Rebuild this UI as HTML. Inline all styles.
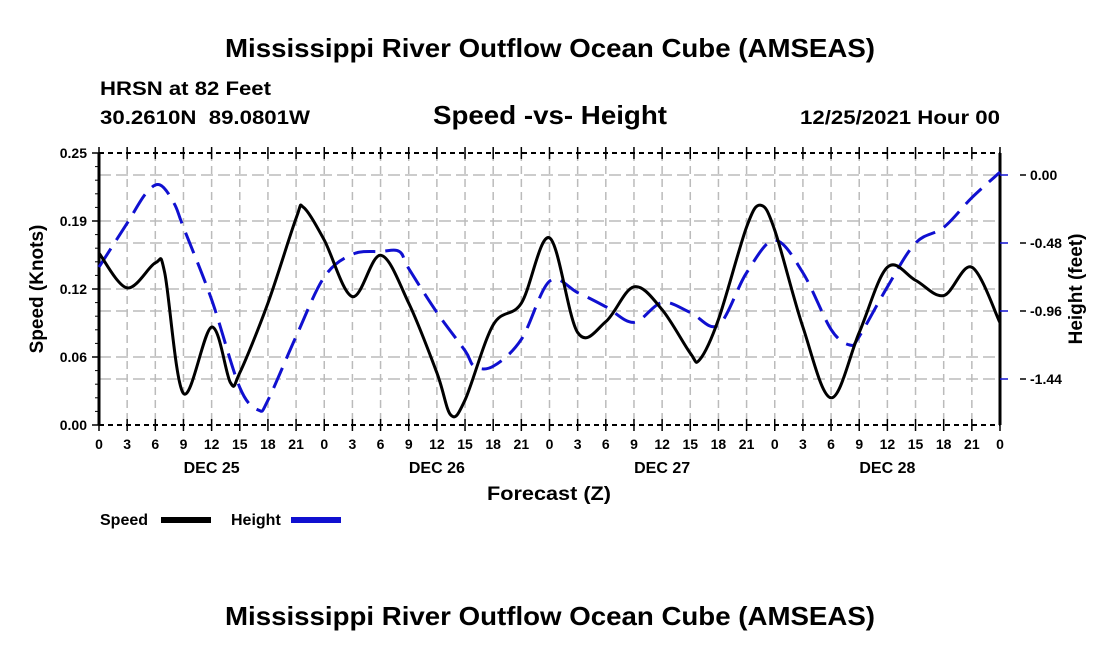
<!DOCTYPE html>
<html><head><meta charset="utf-8"><style>
html,body{margin:0;padding:0;background:#fff;}
svg{display:block;font-family:"Liberation Sans",Arial,sans-serif;font-weight:bold;}
</style></head><body>
<svg id="chart" width="1100" height="650" viewBox="0 0 1100 650">
<text x="225" y="57" font-size="26" textLength="650" lengthAdjust="spacingAndGlyphs">Mississippi River Outflow Ocean Cube (AMSEAS)</text>
<text x="100" y="95" font-size="19" textLength="171" lengthAdjust="spacingAndGlyphs">HRSN at 82 Feet</text>
<text x="100" y="124" font-size="19" textLength="210" lengthAdjust="spacingAndGlyphs" xml:space="preserve">30.2610N  89.0801W</text>
<text x="433" y="124" font-size="26" textLength="234" lengthAdjust="spacingAndGlyphs">Speed -vs- Height</text>
<text x="800" y="124" font-size="19" textLength="200" lengthAdjust="spacingAndGlyphs">12/25/2021 Hour 00</text>
<g id="grid"></g>
<g id="axes"></g>
<g id="series"></g>
<text x="487" y="500" font-size="19" textLength="124" lengthAdjust="spacingAndGlyphs">Forecast (Z)</text>
<text transform="translate(43,289) rotate(-90)" font-size="19" text-anchor="middle">Speed (Knots)</text>
<text transform="translate(1082,289) rotate(-90)" font-size="19" text-anchor="middle">Height (feet)</text>
<g>
<text x="100" y="525" font-size="16">Speed</text>
<rect x="161" y="517" width="50" height="6" fill="#000"/>
<text x="231" y="525" font-size="16">Height</text>
<rect x="291" y="517" width="50" height="6" fill="#1010d0"/>
</g>
<text x="225" y="625" font-size="26" textLength="650" lengthAdjust="spacingAndGlyphs">Mississippi River Outflow Ocean Cube (AMSEAS)</text>
</svg>
<script>
const speedHours=[0,3,6,7,9,12,14,15,18,21,21.8,24,27,30,33,36,37.5,39,42,45,48,51,54,57,60,63,64,66,69,70.5,72,75,78,81,84,87,90,93,96];
const speedValues=[0.158,0.126,0.149,0.14,0.029,0.09,0.039,0.048,0.112,0.19,0.2,0.17,0.118,0.156,0.112,0.048,0.009,0.023,0.092,0.112,0.172,0.085,0.095,0.127,0.106,0.066,0.06,0.097,0.182,0.202,0.179,0.09,0.025,0.085,0.145,0.133,0.119,0.145,0.094];
const heightHours=[0,3,5,6.5,8,9,12,15,17,18,21,24,27,30,32,33,36,39,40,42,45,48,51,54,57,60,63,66,69,72,75,78,80,81,84,87,90,93,96];
const heightValues=[-0.65,-0.34,-0.13,-0.07,-0.2,-0.37,-0.88,-1.5,-1.66,-1.59,-1.14,-0.72,-0.56,-0.54,-0.54,-0.66,-0.97,-1.24,-1.35,-1.35,-1.16,-0.75,-0.83,-0.93,-1.04,-0.9,-0.97,-1.06,-0.69,-0.46,-0.69,-1.09,-1.2,-1.14,-0.79,-0.48,-0.37,-0.16,0.02];
const xTickLabels=["0","3","6","9","12","15","18","21"];
const dayLabels=["DEC 25","DEC 26","DEC 27","DEC 28"];
const leftTicks=[0,0.0625,0.125,0.1875,0.25];
const leftTickLabels=["0.00","0.06","0.12","0.19","0.25"];
const rightTicks=[0,-0.48,-0.96,-1.44];
const rightTickLabels=["0.00","-0.48","-0.96","-1.44"];

const X0=99,X1=1000,Y0=425,Y1=153;
const xS=h=>X0+(X1-X0)*h/96;
const yL=v=>Y0-(Y0-Y1)*v/0.25;
const yRight=v=>175+(-v)*68/0.48;
const NS="http://www.w3.org/2000/svg";
function mk(tag,attrs,parent){const e=document.createElementNS(NS,tag);for(const k in attrs)e.setAttribute(k,attrs[k]);parent.appendChild(e);return e;}
const grid=document.getElementById('grid'),axes=document.getElementById('axes'),series=document.getElementById('series');
for(let h=3;h<96;h+=3){
 const g=mk('line',{x1:xS(h),x2:xS(h),y1:Y1,y2:Y0,stroke:'#bbb','stroke-width':1.5,'stroke-dasharray':'8,5'},grid);
 
 
}
leftTicks.slice(1,4).forEach(v=>{const g=mk('line',{x1:X0,x2:X1,y1:yL(v),y2:yL(v),stroke:'#bbb','stroke-width':1.5,'stroke-dasharray':'12,5'},grid);
 
 });
rightTicks.forEach(v=>{const g=mk('line',{x1:X0,x2:X1,y1:yRight(v),y2:yRight(v),stroke:'#bbb','stroke-width':1.5,'stroke-dasharray':'12,5'},grid);
 
 });
mk('line',{x1:X0,x2:X1,y1:Y1,y2:Y1,stroke:'#000','stroke-width':2,'stroke-dasharray':'5,4'},axes);
mk('line',{x1:X0,x2:X1,y1:Y0,y2:Y0,stroke:'#000','stroke-width':2,'stroke-dasharray':'5,4'},axes);
mk('line',{x1:X0,x2:X0,y1:Y1,y2:Y0,stroke:'#000','stroke-width':3},axes);
mk('line',{x1:X1,x2:X1,y1:Y1,y2:Y0,stroke:'#000','stroke-width':3},axes);
for(let h=0;h<=96;h+=3){
 mk('line',{x1:xS(h),x2:xS(h),y1:Y0-6,y2:Y0+6,stroke:'#000','stroke-width':1.5},axes);
 mk('line',{x1:xS(h),x2:xS(h),y1:Y1-6,y2:Y1+6,stroke:'#000','stroke-width':1.5},axes);
 const t=mk('text',{x:xS(h),y:449,'font-size':14,'text-anchor':'middle'},axes);
 t.textContent=xTickLabels[(h/3)%8];
 
 
}
dayLabels.forEach((d,i)=>{const t=mk('text',{x:xS(12+24*i),y:473,'font-size':16,'text-anchor':'middle'},axes);t.textContent=d;
 
 });
leftTicks.forEach((v,i)=>{mk('line',{x1:X0-7,x2:X0,y1:yL(v),y2:yL(v),stroke:'#000','stroke-width':1.5},axes);
 const t=mk('text',{x:X0-12,y:yL(v)+5,'font-size':14,'text-anchor':'end'},axes);t.textContent=leftTickLabels[i];
 
 });
for(let k=1;k<20;k++){const y=Y0-(Y0-Y1)*k/20;mk('line',{x1:X0-4,x2:X0,y1:y,y2:y,stroke:'#000','stroke-width':1},axes);}
rightTicks.forEach((v,i)=>{mk('line',{x1:X1,x2:X1+8,y1:yRight(v),y2:yRight(v),stroke:'#1010d0','stroke-width':1.5},axes);
 mk('line',{x1:X1+20,x2:X1+26,y1:yRight(v),y2:yRight(v),stroke:'#000','stroke-width':1.5},axes);
 const t=mk('text',{x:X1+30,y:yRight(v)+5,'font-size':14},axes);t.textContent=rightTickLabels[i];
 
 });
function smooth(pts){let d=`M${pts[0][0]},${pts[0][1]}`;
 for(let i=0;i<pts.length-1;i++){const p0=pts[Math.max(0,i-1)],p1=pts[i],p2=pts[i+1],p3=pts[Math.min(pts.length-1,i+2)];
  d+=` C${p1[0]+(p2[0]-p0[0])/6},${p1[1]+(p2[1]-p0[1])/6} ${p2[0]-(p3[0]-p1[0])/6},${p2[1]-(p3[1]-p1[1])/6} ${p2[0]},${p2[1]}`;}
 return d;}
const hp=mk('path',{d:smooth(heightHours.map((h,i)=>[xS(h),yRight(heightValues[i])])),fill:'none',stroke:'#1010d0','stroke-width':3,'stroke-dasharray':'22,10'},series);


const sp=mk('path',{d:smooth(speedHours.map((h,i)=>[xS(h),yL(speedValues[i])])),fill:'none',stroke:'#000','stroke-width':3},series);


</script>
</body></html>
